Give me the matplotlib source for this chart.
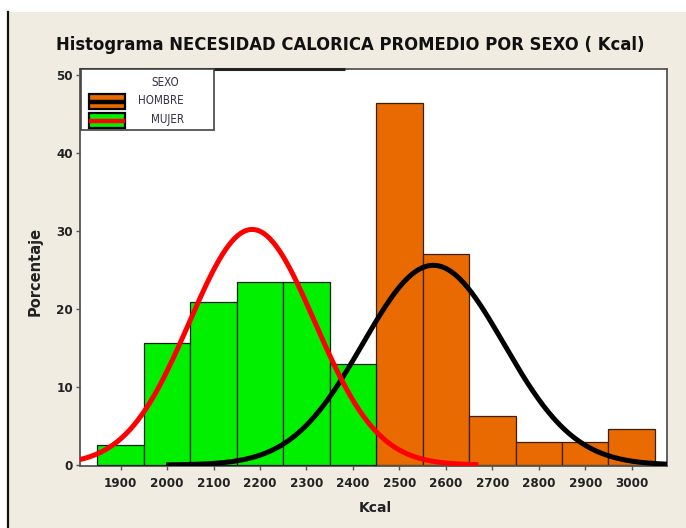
import numpy as np
import matplotlib
matplotlib.use("Agg")
import matplotlib.pyplot as plt
from matplotlib.patches import Rectangle
from matplotlib.lines import Line2D

# ---- data ----
bin_width = 100
mujer_centers = [1900, 2000, 2100, 2200, 2300, 2400]
mujer_pct = [2.5, 15.6, 20.9, 23.5, 23.5, 13.0]
hombre_centers = [2500, 2600, 2700, 2800, 2900, 3000]
hombre_pct = [46.4, 27.1, 6.3, 2.9, 2.9, 4.6]

# fitted normal curves: mean, std, peak height (percent), drawn range
mujer_fit = dict(mean=2183, sd=135, peak=30.2, x0=1812, x1=2670)
hombre_fit = dict(mean=2573, sd=152, peak=25.6, x0=1998, x1=3076)

x_ticks = [1900, 2000, 2100, 2200, 2300, 2400, 2500, 2600, 2700, 2800, 2900, 3000]
y_ticks = [0, 10, 20, 30, 40, 50]

title = "Histograma NECESIDAD CALORICA PROMEDIO POR SEXO ( Kcal)"
xlabel = "Kcal"
ylabel = "Porcentaje"
legend_title = "SEXO"
legend_labels = ["HOMBRE", "MUJER"]

# ---- style ----
BG = "#F0ECE2"
ORANGE = "#E86A00"
GREEN = "#00F000"
RED = "#FF0000"
TXT = "#222222"

W, H = 686, 528
fig = plt.figure(figsize=(W / 100, H / 100), dpi=100)
fig.patch.set_facecolor("white")


def fx(px):
    return px / W


def fy(py):
    return 1 - py / H


# beige panel with white strip on top/left and a black vertical line
fig.add_artist(Rectangle((fx(8), 0), 1 - fx(8), fy(12), transform=fig.transFigure,
                         facecolor=BG, edgecolor="none", zorder=-10))
fig.add_artist(Line2D([fx(8), fx(8)], [0, fy(12)], transform=fig.transFigure,
                      color="#111111", lw=1.6))

ax_l, ax_r, ax_t, ax_b = 80, 667, 69, 466
ax = fig.add_axes([fx(ax_l), fy(ax_b), (ax_r - ax_l) / W, (ax_b - ax_t) / H])
ax.set_facecolor("white")

ax.bar(hombre_centers, hombre_pct, width=bin_width, color=ORANGE,
       edgecolor="#3a2000", linewidth=0.9, zorder=2)
ax.bar(mujer_centers, mujer_pct, width=bin_width, color=GREEN,
       edgecolor="#102010", linewidth=0.9, zorder=3)


def curve(p):
    xs = np.linspace(p["x0"], p["x1"], 400)
    ys = p["peak"] * np.exp(-0.5 * ((xs - p["mean"]) / p["sd"]) ** 2)
    return xs, ys


xr, yr = curve(mujer_fit)
xb, yb = curve(hombre_fit)
ax.plot(xb, yb, color="black", lw=3.6, zorder=4, solid_capstyle="butt")
ax.plot(xr, yr, color=RED, lw=3.6, zorder=5, solid_capstyle="butt")

ax.set_xlim(1812.5, 3076)
ax.set_ylim(-0.13, 50.77)
ax.set_xticks(x_ticks)
ax.set_yticks(y_ticks)

for s in ax.spines.values():
    s.set_color("#555555")
    s.set_linewidth(1.3)

ax.tick_params(axis="both", direction="out", length=3, width=1, color="#555555",
               labelsize=9.5, labelcolor=TXT, pad=2)
ax.tick_params(axis="x", pad=5)
for lab in ax.get_xticklabels() + ax.get_yticklabels():
    lab.set_fontweight("bold")
    lab.set_family("DejaVu Sans")
    lab.set_fontstretch("condensed")

# thick dark segment along the top of the frame
ax.plot([0, (345 - ax_l) / (ax_r - ax_l)], [1, 1], transform=ax.transAxes,
        color="#222222", lw=2.2, clip_on=False, zorder=6, solid_capstyle="butt")

# labels
fig.text(fx(375), fy(508), xlabel, ha="center", va="center",
         fontsize=10, fontweight="bold", color=TXT)
fig.text(fx(35), fy(271), ylabel, ha="center", va="center", rotation=90,
         fontsize=10.5, fontweight="bold", color=TXT)

# title sized to match width
t = fig.text(fx(350), fy(45), title, ha="center", va="center",
             fontsize=12, fontweight="bold", color="#111111",
             family="DejaVu Sans", fontstretch="condensed")
fig.canvas.draw()
r = fig.canvas.get_renderer()
w = t.get_window_extent(r).width
t.set_fontsize(12 * 587 / w)

# legend (drawn as a Minitab-style box)
LEG_TXT = "#333344"
LEG_FS = 8.3
fig.add_artist(Rectangle((fx(81), fy(130)), fx(214) - fx(81), fy(69) - fy(130),
                         transform=fig.transFigure, facecolor="white",
                         edgecolor="#444444", lw=1.2, zorder=8))
fig.text(fx(165), fy(82), legend_title, ha="center", va="center", fontsize=LEG_FS,
         color=LEG_TXT, family="DejaVu Sans", fontstretch="condensed", zorder=9)
legend_styles = [(ORANGE, "black", 101.5), (GREEN, RED, 120.5)]
for (fc, lc, yc), lab in zip(legend_styles, legend_labels):
    fig.add_artist(Rectangle((fx(89), fy(yc + 7.5)), fx(125) - fx(89), fy(yc - 7.5) - fy(yc + 7.5),
                             transform=fig.transFigure, facecolor=fc,
                             edgecolor="black", lw=1.6, zorder=9))
    fig.add_artist(Line2D([fx(89), fx(125)], [fy(yc), fy(yc)], transform=fig.transFigure,
                          color=lc, lw=3.2, zorder=10, solid_capstyle="butt"))
    fig.text(fx(184), fy(yc - 1.5), lab, ha="right", va="center", fontsize=LEG_FS,
             color=LEG_TXT, family="DejaVu Sans", fontstretch="condensed", zorder=9)

fig.savefig("out.png", dpi=100, facecolor=fig.get_facecolor())
